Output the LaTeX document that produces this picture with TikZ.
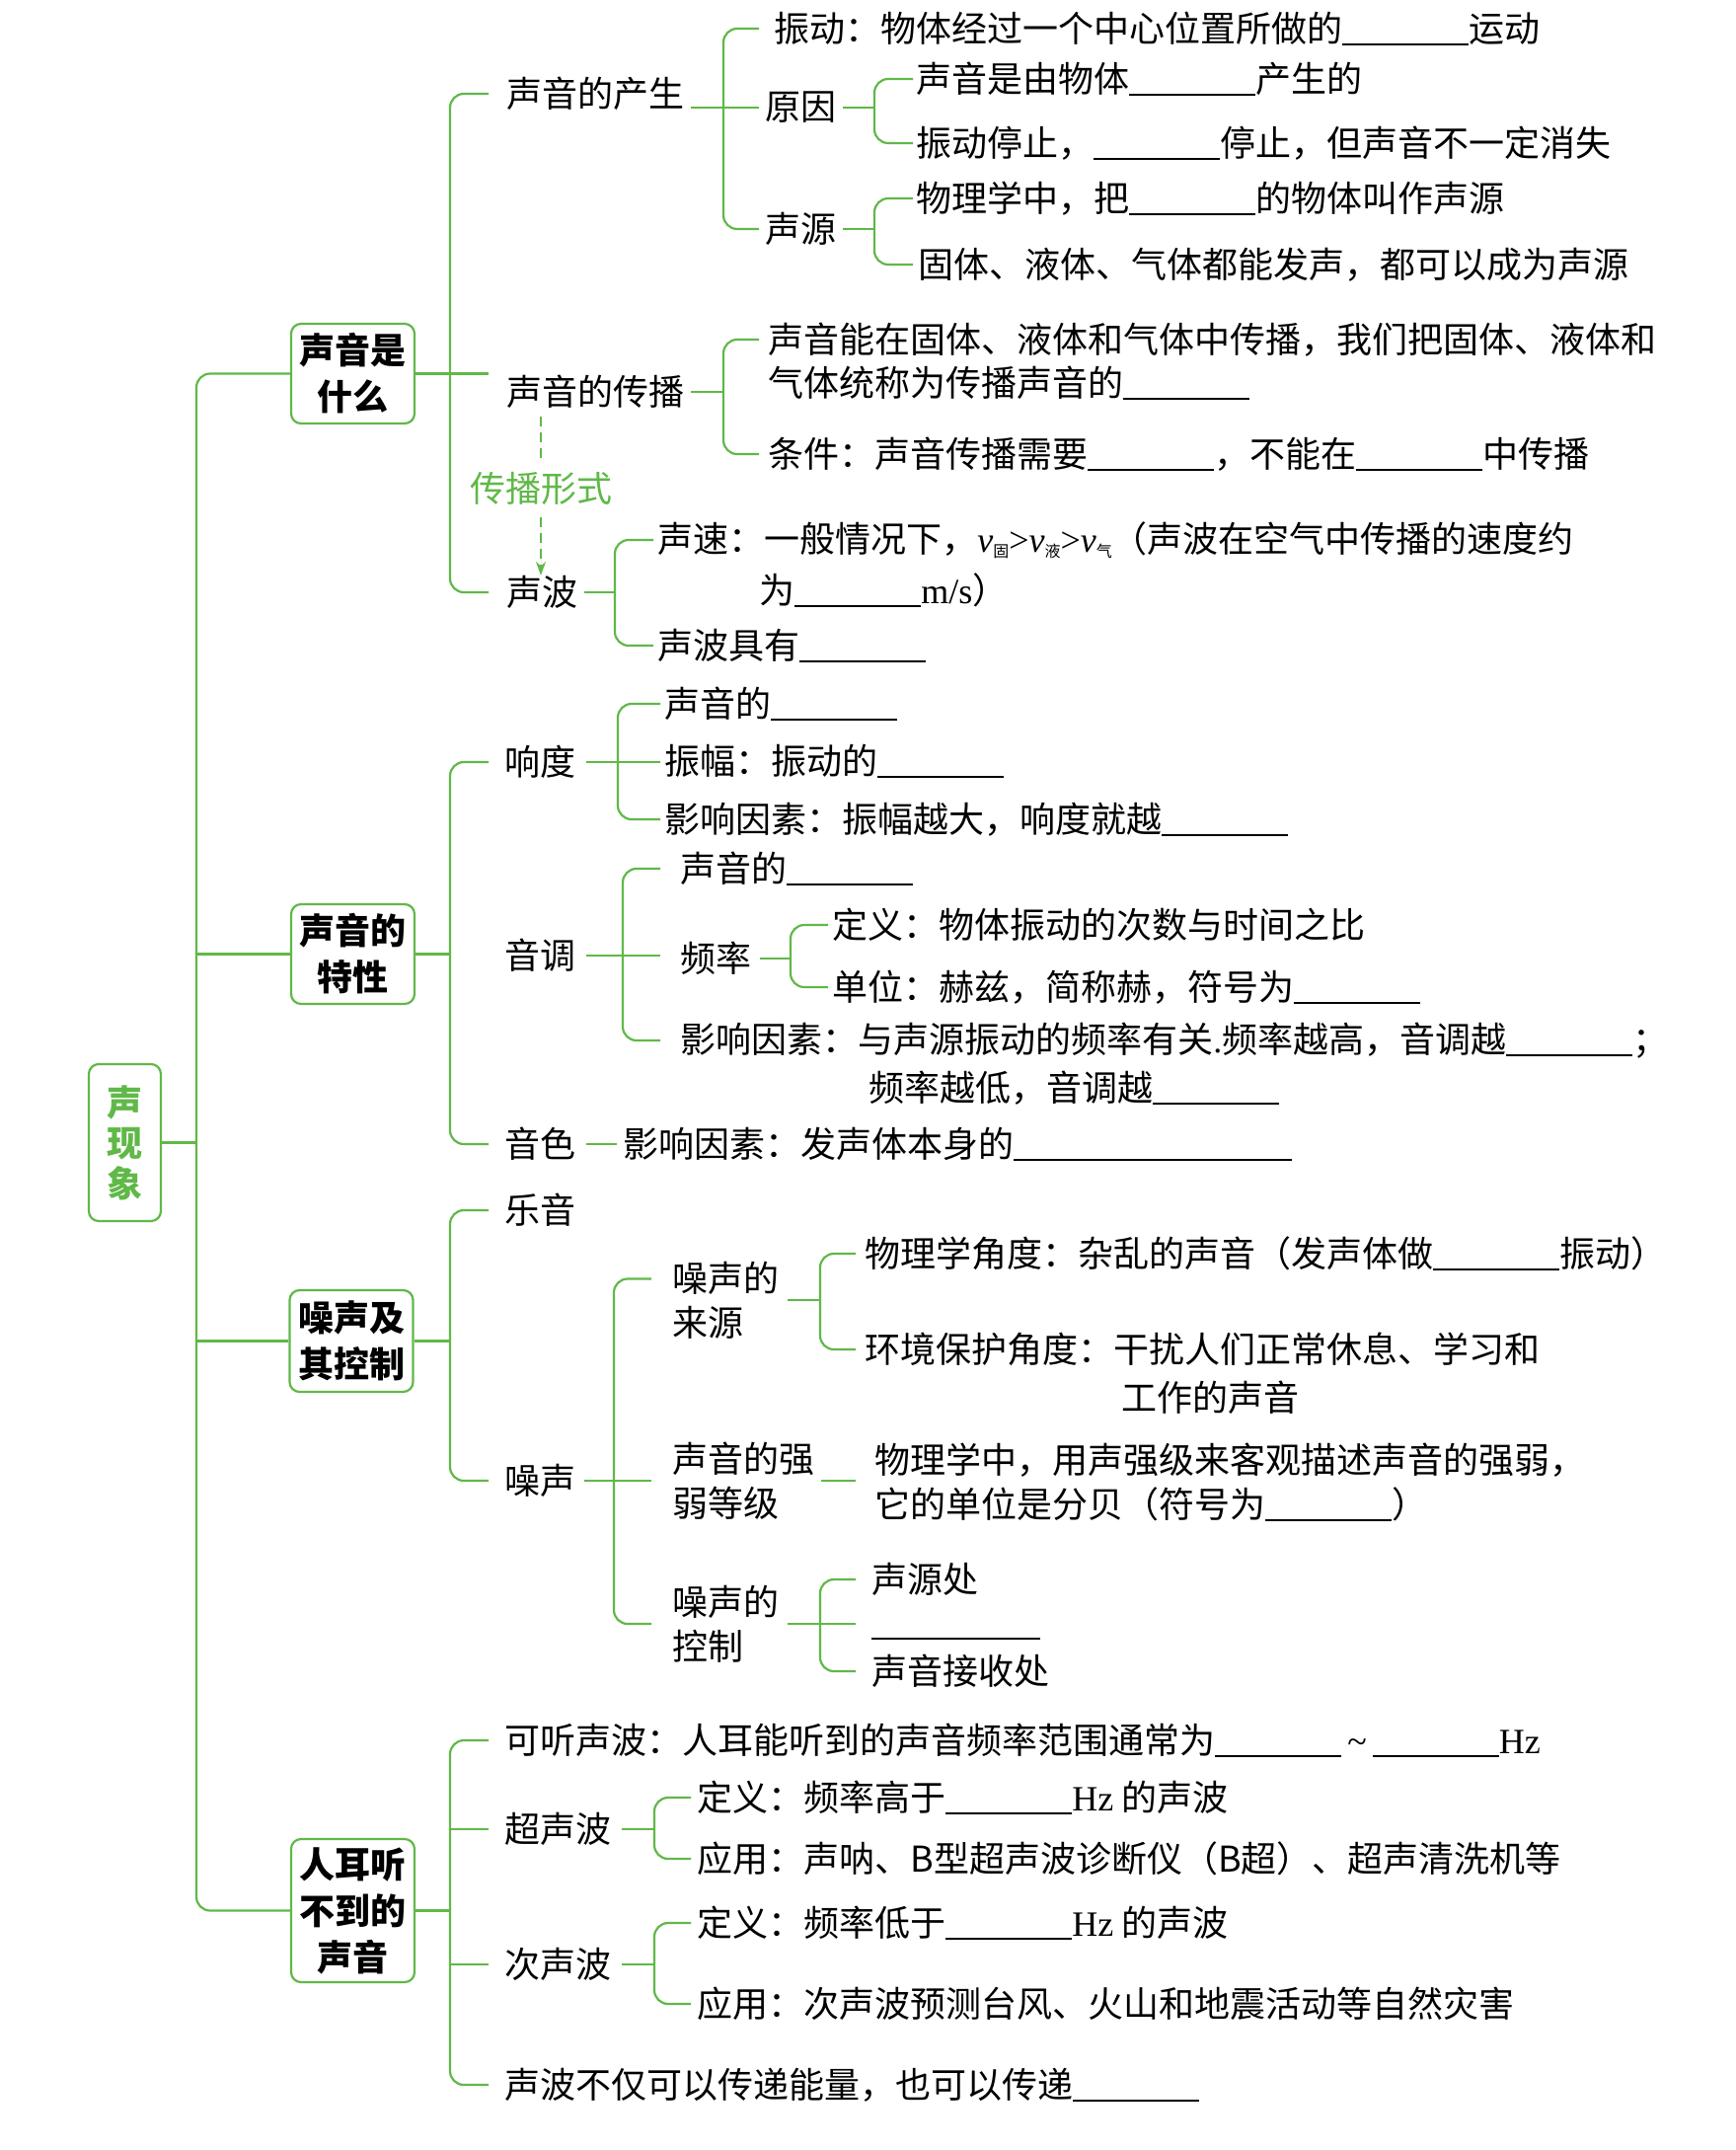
\documentclass[tikz,border=0pt]{standalone}
\usepackage{fontspec}
\setmainfont{Noto Sans CJK SC}
\newfontfamily\latinfont{Liberation Serif}
\usetikzlibrary{arrows.meta}
\definecolor{mapgreen}{RGB}{96,184,72}
\newcommand\fillblank[1][64pt]{\rule[-1.8pt]{#1}{0.9pt}}
\newcommand\vsub[1]{{\latinfont\itshape v}\raisebox{-2.5pt}{\fontsize{8}{8}\selectfont #1}}

\begin{document}
\begin{tikzpicture}[x=0.5pt, y=-0.5pt,
  font=\fontsize{18}{22.5}\selectfont,
  conn/.style={draw=mapgreen, line width=1.1pt},
  brk/.style={conn, rounded corners=7pt},
  txt/.style={anchor=west, inner sep=0pt, align=left},
  topic/.style={draw=mapgreen, line width=1.1pt, rounded corners=5pt, fill=white,
    minimum width=62.5pt, inner sep=0pt, align=center,
    font=\bfseries\fontsize{18}{23.5}\selectfont}]
  \useasboundingbox (0,0) rectangle (1759,2178);

  % Root and the four topics
  \node[topic, minimum width=36.5pt, minimum height=79.5pt, text=mapgreen,
    font=\bfseries\fontsize{18}{20.5}\selectfont] (root) at (126.5,1157.5) {声\\现\\象};
  \node[topic, minimum height=50.5pt] (b1) at (357.5,378.5) {声音是\\什么};
  \node[topic, minimum height=50.5pt] (b2) at (357.5,966.5) {声音的\\特性};
  \node[topic, minimum height=51.5pt] (b3) at (356,1358.5) {噪声及\\其控制};
  \node[topic, minimum height=72.5pt] (b4) at (357.5,1935.5) {人耳听\\不到的\\声音};

  % Main spine
  \coordinate (k0) at (199,0);
  \draw[brk] (b1) -- (k0 |- b1) -- (k0 |- b4) -- (b4);
  \draw[conn] (root) -- (k0 |- root);
  \draw[conn] (b2) -- (k0 |- b2);
  \draw[conn] (b3) -- (k0 |- b3);

  % Columns
  \coordinate (k1) at (456,0); \coordinate (e1) at (495,0);
  \coordinate (k2) at (733,0); \coordinate (e2) at (769,0);
  \coordinate (k3) at (886,0); \coordinate (e3) at (925,0);
  \coordinate (k4) at (623,0); \coordinate (e4) at (662,0);

  % Topic 1: what is sound
  \node[txt] (gen) at (513,95) {声音的产生};
  \node[txt] (spread) at (513,397) {声音的传播};
  \node[txt] (wave) at (513,600) {声波};
  \draw[brk] (e1 |- gen) -- (k1 |- gen) -- (k1 |- wave) -- (e1 |- wave);
  \draw[conn] (b1) -- (e1 |- b1);

  \node[text=mapgreen, inner xsep=0pt, inner ysep=6pt] (form) at (548,495) {传播形式};
  \draw[draw=mapgreen, line width=0.8pt, dash pattern=on 5pt off 3pt] (spread.south -| form) ++(0,8) -- (form.north);
  \draw[draw=mapgreen, fill=mapgreen, line width=0.8pt, dash pattern=on 5pt off 3pt,
    -{Stealth[length=7pt, width=5pt]}] (form.south) -- (wave.north -| form);

  \node[txt] (vib) at (784,29) {振动：物体经过一个中心位置所做的\fillblank 运动};
  \node[txt] (cause) at (775,109) {原因};
  \node[txt] (src) at (775,232) {声源};
  \draw[brk] (e2 |- vib) -- (k2 |- vib) -- (k2 |- src) -- (e2 |- src);
  \draw[conn, shorten <=3pt] (gen.east |- cause) -- (e2 |- cause);

  \node[txt] (cause1) at (928,80) {声音是由物体\fillblank 产生的};
  \node[txt] (cause2) at (928,145) {振动停止，\fillblank 停止，但声音不一定消失};
  \draw[brk] (e3 |- cause1) -- (k3 |- cause1) -- (k3 |- cause2) -- (e3 |- cause2);
  \draw[conn, shorten <=3pt] (cause) -- (k3 |- cause);

  \node[txt] (src1) at (928,201) {物理学中，把\fillblank 的物体叫作声源};
  \node[txt] (src2) at (930,268) {固体、液体、气体都能发声，都可以成为声源};
  \draw[brk] (e3 |- src1) -- (k3 |- src1) -- (k3 |- src2) -- (e3 |- src2);
  \draw[conn, shorten <=3pt] (src) -- (k3 |- src);

  \node[txt] (sp1) at (778,344) {声音能在固体、液体和气体中传播，我们把固体、液体和};
  \node[txt] (sp1b) at (778,388) {气体统称为传播声音的\fillblank};
  \node[txt] (sp2) at (778,460) {条件：声音传播需要\fillblank，不能在\fillblank 中传播};
  \draw[brk] (e2 |- sp1) -- (k2 |- sp1) -- (k2 |- sp2) -- (e2 |- sp2);
  \draw[conn, shorten <=3pt] (spread) -- (k2 |- spread);

  \node[txt] (wv1) at (666,547) {声速：一般情况下，\vsub{固}{\latinfont >}\vsub{液}{\latinfont >}\vsub{气}（声波在空气中传播的速度约};
  \node[txt] (wv1b) at (769,598) {为\fillblank{\latinfont m/s}）};
  \node[txt] (wv2) at (666,654) {声波具有\fillblank};
  \draw[brk] (e4 |- wv1) -- (k4 |- wv1) -- (k4 |- wv2) -- (e4 |- wv2);
  \draw[conn, shorten <=3pt] (wave) -- (k4 |- wave);

  % Topic 2: characteristics
  \node[txt] (loud) at (511,772) {响度};
  \node[txt] (pitch) at (511,968) {音调};
  \node[txt] (timbre) at (511,1159) {音色};
  \draw[brk] (e1 |- loud) -- (k1 |- loud) -- (k1 |- timbre) -- (e1 |- timbre);
  \draw[conn] (b2) -- (k1 |- b2);

  \coordinate (k5) at (626,0); \coordinate (e5) at (669,0);
  \node[txt] (ld1) at (673,713) {声音的\fillblank};
  \node[txt] (ld2) at (673,771) {振幅：振动的\fillblank};
  \node[txt] (ld3) at (673,830) {影响因素：振幅越大，响度就越\fillblank};
  \draw[brk] (e5 |- ld1) -- (k5 |- ld1) -- (k5 |- ld3) -- (e5 |- ld3);
  \draw[conn, shorten <=5pt] (loud) -- (e5 |- loud);

  \coordinate (k6) at (631,0);
  \node[txt] (pt1) at (689,880) {声音的\fillblank};
  \node[txt] (freq) at (689,971) {频率};
  \node[txt] (pt3) at (689,1054) {影响因素：与声源振动的频率有关{\latinfont .}频率越高，音调越\fillblank；};
  \node[txt] (pt3b) at (880,1102) {频率越低，音调越\fillblank};
  \draw[brk] (e5 |- pt1) -- (k6 |- pt1) -- (k6 |- pt3) -- (e5 |- pt3);
  \draw[conn, shorten <=5pt] (pitch) -- (e5 |- pitch);

  \coordinate (k7) at (801,0); \coordinate (e7) at (839,0);
  \node[txt] (fq1) at (843,937) {定义：物体振动的次数与时间之比};
  \node[txt] (fq2) at (843,1000) {单位：赫兹，简称赫，符号为\fillblank};
  \draw[brk] (e7 |- fq1) -- (k7 |- fq1) -- (k7 |- fq2) -- (e7 |- fq2);
  \draw[conn, shorten <=4pt] (freq) -- (k7 |- freq);

  \node[txt] (tm1) at (631,1159) {影响因素：发声体本身的\fillblank[141pt]};
  \draw[conn, shorten <=5pt, shorten >=3pt] (timbre) -- (tm1);

  % Topic 3: noise
  \node[txt] (music) at (511,1226) {乐音};
  \node[txt] (noise) at (511,1500) {噪声};
  \draw[brk] (e1 |- music) -- (k1 |- music) -- (k1 |- noise) -- (e1 |- noise);
  \draw[conn] (b3) -- (k1 |- b3);

  \coordinate (k8) at (622,0); \coordinate (e8) at (660,0);
  \node[txt] (ns1) at (681,1317) {噪声的\\来源};
  \node[txt] (ns2) at (681,1500) {声音的强\\弱等级};
  \node[txt] (ns3) at (681,1645) {噪声的\\控制};
  \coordinate (ns1top) at ([yshift=-9pt]ns1.north);
  \draw[brk] (e8 |- ns1top) -- (k8 |- ns1top) -- (k8 |- ns3) -- (e8 |- ns3);
  \draw[conn, shorten <=4pt] (noise) -- (e8 |- noise);

  \coordinate (k9) at (831,0); \coordinate (e9) at (867,0);
  \node[txt] (sc1) at (876,1270) {物理学角度：杂乱的声音（发声体做\fillblank 振动）};
  \node[txt] (sc2) at (876,1367) {环境保护角度：干扰人们正常休息、学习和};
  \node[txt] (sc2b) at (1136,1416) {工作的声音};
  \draw[brk] (e9 |- sc1) -- (k9 |- sc1) -- (k9 |- sc2) -- (e9 |- sc2);
  \draw[conn, shorten <=4pt] (ns1) -- (k9 |- ns1);

  \node[txt] (lv1) at (886,1501) {物理学中，用声强级来客观描述声音的强弱，\\它的单位是分贝（符号为\fillblank）};
  \draw[conn, shorten <=3pt] (ns2) -- (e9 |- ns2);

  \node[txt] (ct1) at (883,1600) {声源处};
  \node[txt] (ct2) at (883,1644) {\vphantom{声}\fillblank[85.5pt]};
  \node[txt] (ct3) at (883,1693) {声音接收处};
  \draw[brk] (e9 |- ct1) -- (k9 |- ct1) -- (k9 |- ct3) -- (e9 |- ct3);
  \draw[conn, shorten <=4pt] (ns3) -- (e9 |- ns3);

  % Topic 4: inaudible sound
  \node[txt] (aud) at (511,1763) {可听声波：人耳能听到的声音频率范围通常为\fillblank\,{\latinfont\textasciitilde}\,\fillblank{\latinfont Hz}};
  \node[txt] (ultra) at (511,1853) {超声波};
  \node[txt] (infra) at (511,1990) {次声波};
  \node[txt] (carry) at (511,2112) {声波不仅可以传递能量，也可以传递\fillblank};
  \draw[brk] (e1 |- aud) -- (k1 |- aud) -- (k1 |- carry) -- (e1 |- carry);
  \draw[conn] (k1 |- ultra) -- (e1 |- ultra);
  \draw[conn] (k1 |- infra) -- (e1 |- infra);
  \draw[conn] (b4) -- (k1 |- b4);

  \coordinate (k10) at (663,0); \coordinate (e10) at (700,0);
  \node[txt] (us1) at (706,1821) {定义：频率高于\fillblank{\latinfont Hz}\ 的声波};
  \node[txt] (us2) at (706,1883) {应用：声呐、B型超声波诊断仪（B超）、超声清洗机等};
  \draw[brk] (e10 |- us1) -- (k10 |- us1) -- (k10 |- us2) -- (e10 |- us2);
  \draw[conn, shorten <=5pt] (ultra) -- (k10 |- ultra);

  \node[txt] (is1) at (706,1948) {定义：频率低于\fillblank{\latinfont Hz}\ 的声波};
  \node[txt] (is2) at (706,2030) {应用：次声波预测台风、火山和地震活动等自然灾害};
  \draw[brk] (e10 |- is1) -- (k10 |- is1) -- (k10 |- is2) -- (e10 |- is2);
  \draw[conn, shorten <=5pt] (infra) -- (k10 |- infra);
\end{tikzpicture}
\end{document}
